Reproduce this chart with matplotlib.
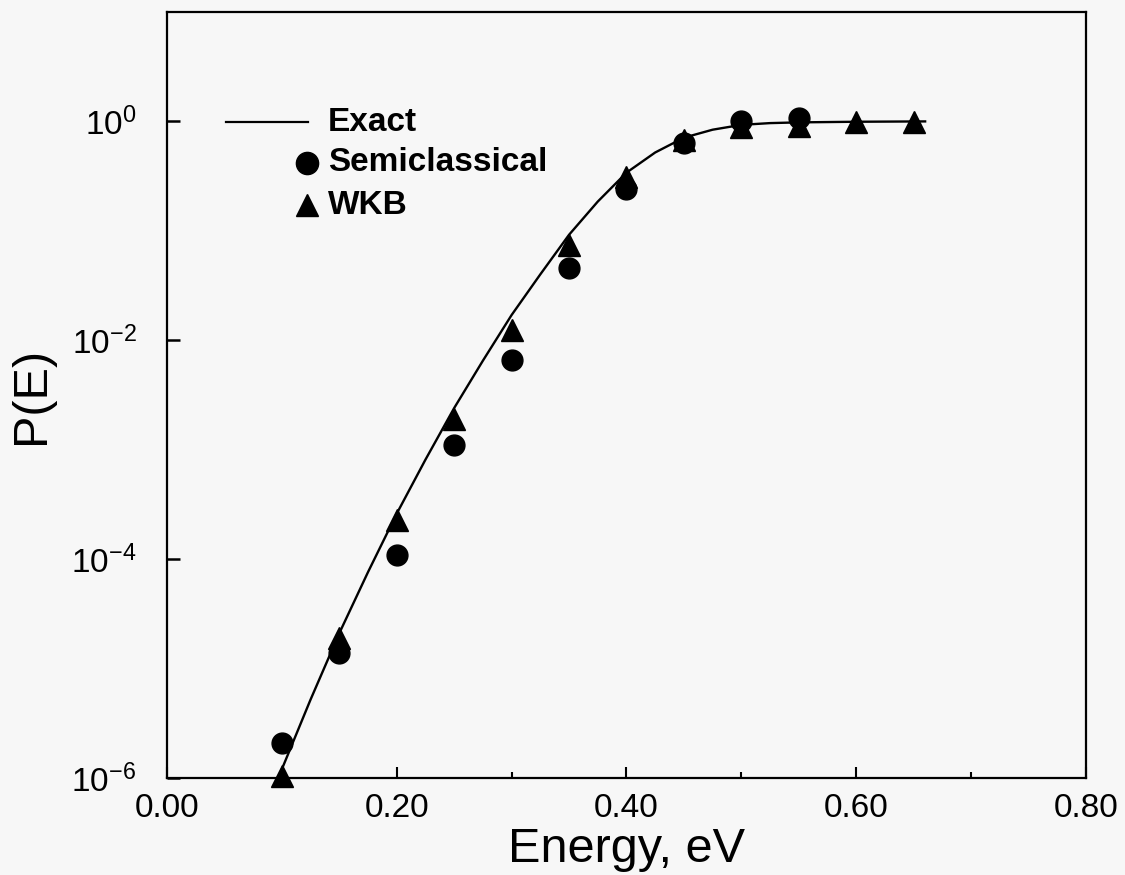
import math
import matplotlib
matplotlib.use("Agg")
import matplotlib.pyplot as plt
from matplotlib.ticker import FixedLocator, FuncFormatter

plt.rcParams['font.family'] = ['Liberation Sans', 'DejaVu Sans']
plt.rcParams['mathtext.fontset'] = 'custom'
plt.rcParams['mathtext.rm'] = 'Liberation Sans'
plt.rcParams['mathtext.it'] = 'Liberation Sans'

# Exact transmission probability
exact_E = [0.100, 0.125, 0.150, 0.175, 0.200, 0.225, 0.250, 0.275, 0.300, 0.325,
           0.350, 0.375, 0.400, 0.425, 0.450, 0.475, 0.500, 0.525, 0.550, 0.600, 0.660]
exact_P = [1.2e-6, 5.2e-6, 2.1e-5, 7.6e-5, 2.6e-4, 8.1e-4, 2.4e-3, 6.5e-3, 1.7e-2, 4.0e-2,
           0.092, 0.185, 0.34, 0.52, 0.71, 0.84, 0.93, 0.965, 0.98, 0.993, 1.0]

# Semiclassical results
semi_E = [0.10, 0.15, 0.20, 0.25, 0.30, 0.35, 0.40, 0.45, 0.50, 0.55]
semi_P = [2.1e-6, 1.4e-5, 1.1e-4, 1.1e-3, 6.6e-3, 0.046, 0.24, 0.63, 1.0, 1.08]

# WKB results
wkb_E = [0.10, 0.15, 0.20, 0.25, 0.30, 0.35, 0.40, 0.45, 0.50, 0.55, 0.60, 0.65]
wkb_P = [1.05e-6, 1.9e-5, 2.3e-4, 1.9e-3, 0.0125, 0.074, 0.31, 0.68, 0.88, 0.91, 0.98, 0.98]

x_major = [0.0, 0.2, 0.4, 0.6, 0.8]
x_minor = [0.1, 0.3, 0.5, 0.7]
y_major = [1e-6, 1e-4, 1e-2, 1e0]

bg = '#f7f7f7'
fig = plt.figure(figsize=(11.25, 8.75), dpi=100, facecolor=bg)
ax = fig.add_axes([0.1484, 0.1109, 0.8169, 0.8754], facecolor=bg)

ax.plot(exact_E, exact_P, color='black', lw=1.7, zorder=2)
ax.plot(semi_E, semi_P, 'o', color='black', ms=15, clip_on=False, zorder=3)
ax.plot(wkb_E, wkb_P, '^', color='black', ms=16, clip_on=False, zorder=4)

ax.set_yscale('log')
ax.set_xlim(0.0, 0.8)
ax.set_ylim(1e-6, 1e1)

ax.xaxis.set_major_locator(FixedLocator(x_major))
ax.xaxis.set_minor_locator(FixedLocator(x_minor))
ax.xaxis.set_major_formatter(FuncFormatter(lambda v, p: f"{v:.2f}"))
ax.yaxis.set_major_locator(FixedLocator(y_major))
ax.yaxis.set_minor_locator(FixedLocator([]))
ax.yaxis.set_major_formatter(FuncFormatter(lambda v, p: r"$10^{%d}$" % round(math.log10(v))))

ax.tick_params(axis='x', which='major', direction='in', length=8, width=1.5,
               labelsize=24, pad=11, top=False)
ax.tick_params(axis='x', which='minor', direction='in', length=4, width=1.5, top=False)
ax.tick_params(axis='y', which='major', direction='in', length=9, width=1.8,
               labelsize=24, pad=22, right=False)
for s in ax.spines.values():
    s.set_linewidth(1.6)

ax.set_xlabel('Energy, eV', fontsize=35, labelpad=2)
ax.set_ylabel('P(E)', fontsize=35, labelpad=12)

# Legend drawn in axes coordinates
lx0, lx1, tx = 0.064, 0.153, 0.175
rows = [0.856, 0.803, 0.748]
ax.plot([lx0, lx1], [rows[0], rows[0]], color='black', lw=1.6, transform=ax.transAxes)
ax.plot([0.152], [rows[1]], 'o', color='black', ms=16, transform=ax.transAxes)
ax.plot([0.152], [rows[2]], '^', color='black', ms=16, transform=ax.transAxes)
for y, t in zip(rows, ['Exact', 'Semiclassical', 'WKB']):
    ax.text(tx, y, t, transform=ax.transAxes, fontsize=24, fontweight='bold',
            va='center', ha='left')

fig.savefig('out.png', dpi=100, facecolor=bg)
